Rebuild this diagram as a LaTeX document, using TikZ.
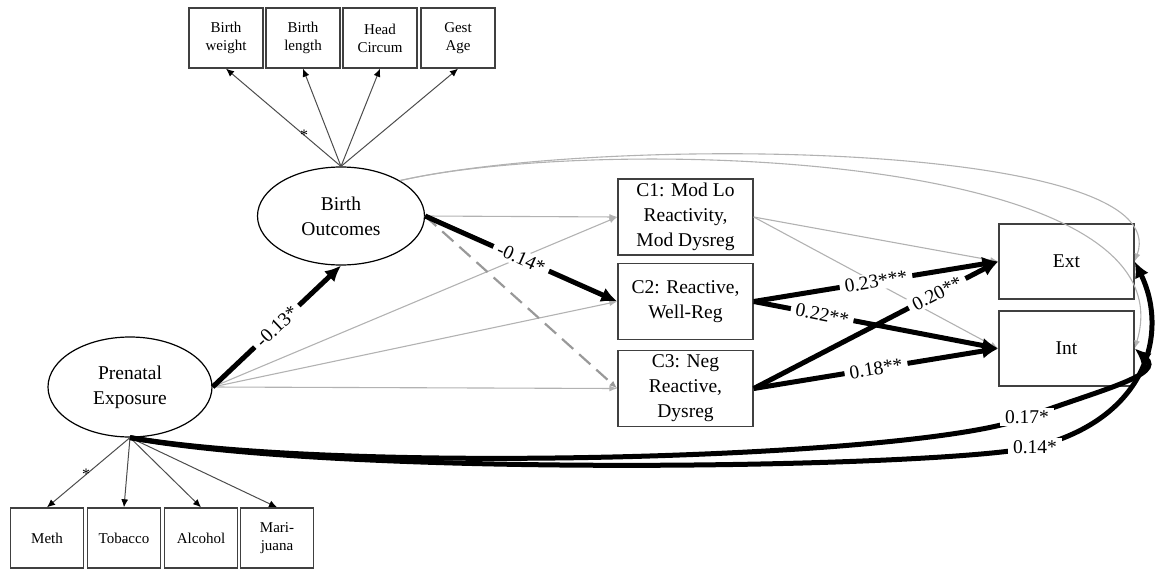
\documentclass[tikz,border=0pt]{standalone}
\usepackage{fontspec}
\setmainfont{Liberation Serif}
\usetikzlibrary{arrows.meta,shapes.geometric}

\begin{document}
\begin{tikzpicture}[x=1pt, y=1pt,
    latent/.style={ellipse, draw, line width=1.2pt, minimum width=167pt, minimum height=98pt, inner sep=0pt, align=center, font=\fontsize{19.5}{25}\selectfont},
    indic/.style={rectangle, draw=black!75, line width=1.4pt, minimum width=74pt, minimum height=60pt, inner sep=0pt, align=center, font=\fontsize{15}{18}\selectfont},
    cls/.style={rectangle, draw=black!75, line width=1.4pt, minimum width=135pt, minimum height=76pt, inner sep=0pt, align=center, font=\fontsize{19.5}{25}\selectfont},
    load/.style={draw=black!70, line width=1pt, -{Latex[length=8pt,width=7pt,color=black]}},
    weak/.style={draw=black!30, line width=1.1pt, -{Latex[length=8pt,width=6pt]}},
    strong/.style={draw=black, line width=5pt, -{Latex[length=16pt,width=15pt]}},
    coef/.style={fill=white, inner xsep=5pt, inner ysep=2pt, sloped, font=\fontsize{19.5}{22}\selectfont},
    sig/.style={inner sep=0pt, font=\fontsize{16}{16}\selectfont}]
    \useasboundingbox (0,0) rectangle (1158,-570);

    % Draw Latent Variables
    \node[latent] (bo) at (341,-216) {Birth\\Outcomes};
    \node[latent, minimum width=164pt, minimum height=100pt] (pe) at (130,-387) {Prenatal\\Exposure};

    % Draw Indicators
    \node[indic] (bw) at (226,-38) {Birth\\weight};
    \node[indic] (bl) at (303,-38) {Birth\\length};
    \node[indic] (hc) at (380,-38) {Head\\Circum};
    \node[indic] (ga) at (458,-38) {Gest\\Age};
    \node[indic, minimum width=73pt] (meth) at (47,-538) {Meth};
    \node[indic, minimum width=73pt] (tob) at (124,-538) {Tobacco};
    \node[indic, minimum width=73pt] (alc) at (201,-538) {Alcohol};
    \node[indic, minimum width=73pt] (mari) at (277,-538) {Mari-\\juana};

    % Draw Classes and Outcomes
    \node[cls] (c1) at (685.5,-217) {C1: Mod Lo\\Reactivity,\\Mod Dysreg};
    \node[cls] (c2) at (685.5,-301.5) {C2: Reactive,\\Well-Reg};
    \node[cls] (c3) at (685.5,-388.5) {C3: Neg\\Reactive,\\Dysreg};
    \node[cls, minimum height=75pt] (ext) at (1066.5,-261.5) {Ext};
    \node[cls, minimum height=75pt] (int) at (1066.5,-348.5) {Int};

    % Draw Loadings
    \draw[load] (bo.north) -- (bw.south) node[sig, pos=0.32] (s1) {*};
    \foreach \b in {bl,hc,ga} \draw[load] (bo.north) -- (\b.south);
    \draw[load] (pe.south) -- (meth.north) node[sig, pos=0.53] (s2) {*};
    \foreach \b in {tob,alc,mari} \draw[load] (pe.south) -- (\b.north);

    % Draw Non-significant Paths
    \foreach \c in {c1,c2,c3} \draw[weak] (pe.east) -- (\c.west);
    \draw[weak] (bo.east) -- (c1.west);
    \draw[weak, draw=black!40, line width=2.2pt, dash pattern=on 15pt off 8pt] (bo.east) -- (c3.west);
    \draw[weak] (c1.east) -- (ext.west);
    \draw[weak] (c1.east) -- (int.west);
    \draw[weak] (bo.31) .. controls (600,-135) and (1178,-140) .. (ext.east);
    \draw[weak] (bo.31) .. controls (600,-135) and (1195,-150) .. (int.east);

    % Draw Significant Paths
    \draw[strong] (pe.east) -- (bo.south) node[coef, midway] (l1) {-0.13*};
    \draw[strong] (bo.east) -- (c2.west) node[coef, midway] (l2) {-0.14*};
    \draw[strong] (c2.east) -- (ext.west) node[coef, midway] (l3) {0.23***};
    \draw[strong] (c2.east) -- (int.west) node[coef, pos=0.28] (l4) {0.22**};
    \draw[strong] (c3.east) -- (ext.west) node[coef, pos=0.75] (l5) {0.20**};
    \draw[strong] (c3.east) -- (int.west) node[coef, midway] (l6) {0.18**};
    \draw[strong] (pe.south) .. controls (350,-475) and (930,-458) .. (1027,-417) node[coef] (l7) {0.17*}
        .. controls (1100,-390) and (1165,-375) .. (int.east);
    \draw[strong] (pe.south) .. controls (350,-478) and (940,-468) .. (1035,-447) node[coef] (l8) {0.14*}
        .. controls (1150,-418) and (1168,-330) .. (ext.east);

\end{tikzpicture}
\end{document}
